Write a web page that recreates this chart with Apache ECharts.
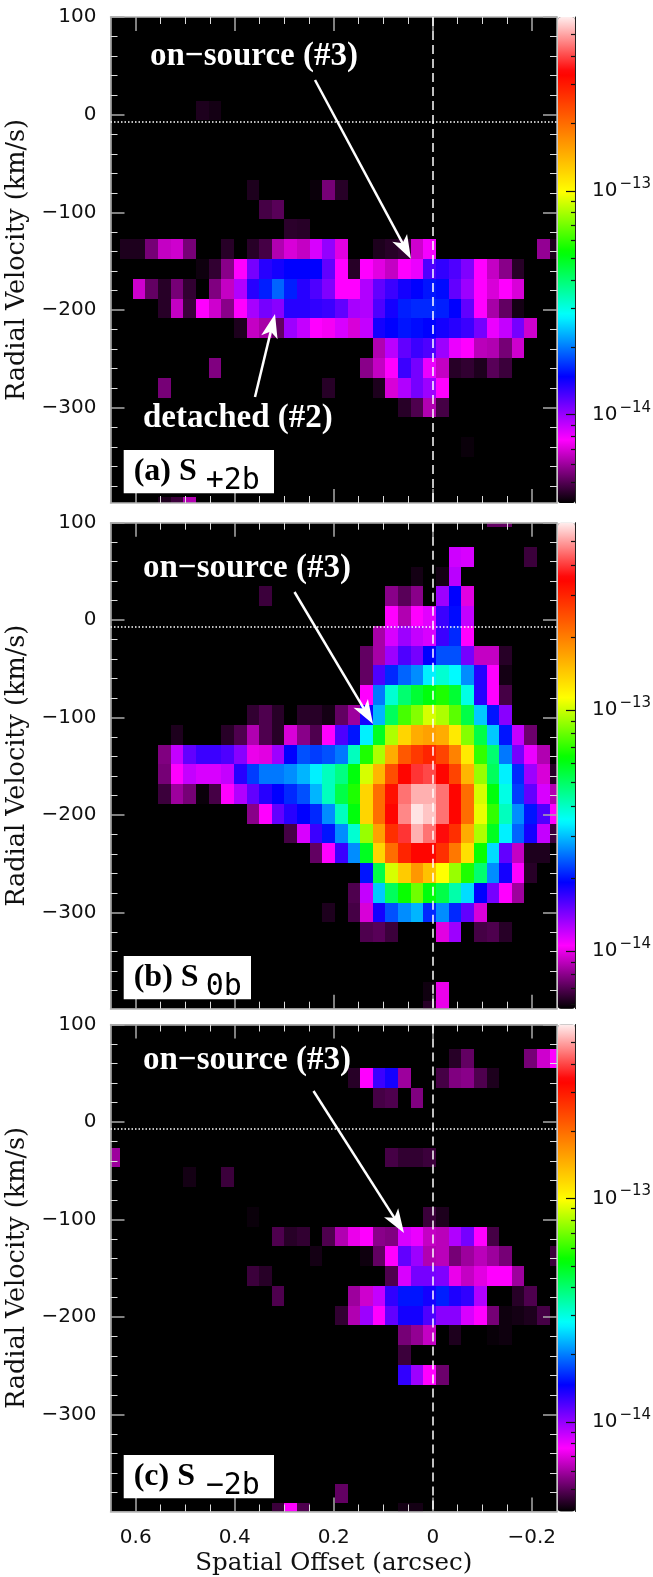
<!DOCTYPE html>
<html><head><meta charset="utf-8">
<style>html,body{margin:0;padding:0;background:#fff}#c{width:653px;height:1577px}</style>
<script src="https://cdn.jsdelivr.net/npm/echarts@6/dist/echarts.min.js"></script>
</head><body><div id="c"></div>
<script>
// Pixel grid of the position-velocity map: centre of first column/row and step
const firstOffset = 0.6442, offsetStep = -0.02552;   // arcsec
const firstVelocity = 105.56, velocityStep = -20.27;  // km/s

// Flux of each cell as position on the colour scale (percent).
// Each entry: [row, firstColumn, values...]; 0 = below the scale.
const panelA = [
[5,7,1.5,1],
[9,11,1.5,0,0,0,0,0.5,6,2],
[10,12,3.5,4.5],
[11,14,2.2,2],
[12,1,1.5,1.5,6,10,10.5,6,0,0,2,0,2,3.5,9,11,10,15,18.5,11.5,0,0,1.5,2,2.5,10.5,13.5,0,0,0,0,0,0,0,0,7.5,1.5],
[13,7,0.7,2.5,7,13,20,24,25,26,26,26,21,13,2,13,11.5,10,13,14,22,23.5,22,19.5,13,10,7,2],
[14,2,10.5,5,2,6,2.5,0,6.5,10,17,24,27.5,31,27.5,24,22,19.5,13,13,17,21,23,25,26,27,26.5,21,18,13,11,13,11],
[15,4,2,10,3,13,10.5,7,13,17.5,20,19,24,24,23.5,23,21,17.5,17,22,25,27.5,28,28,27.5,26,21,13,8.5,5,1],
[16,10,1.5,10,8.5,5,18,16,13,12.5,15,11,16,25,26,27,26.5,26,25,24,23,20,14,16,20,10.5],
[17,21,9,16.5,21,23,22,18,14,13,9.5,9,6,10.5],
[18,8,6.5],
[18,20,7,10,13,23,20,14,10,2,2.5,1.5,4.5,3],
[19,4,6],
[19,17,2],
[19,21,1.5,11,17,20,18,13],
[20,23,2,4,9,3.5],
[22,28,0.5],
[25,4,1.5,3,9]
];
const panelB = [
[0,30,5,5],
[2,27,15.5,15],
[2,33,3],
[3,24,1,0,1,16.5],
[4,12,3],
[4,22,7,4.5,7,0,18,26,11.5],
[5,22,13,9,13,14.5,23,26.5,16],
[6,21,8.5,15,18,16,15,23,28,13],
[7,20,5,8.5,18,22,20,26,30,30,20,10,10,2],
[8,20,5,22,28,31,33,38,41,38.5,33,24,13,1],
[9,20,13,32,41,46,49,51,53,49,40,24,13,3.5],
[10,11,2.5,4,2,0,2,2,1,5,8,25,35,47,55,58,62,60,56,48,36,27,19],
[11,5,1.5,0,0,0,2,4,9,4,2,11,7,4,13,22,27,38,50,60,68,72,73,72,66,58,48,36,27,16,5.5],
[12,4,6.5,16,21,23,23,22,19,12,11.5,18,26,30,29,30,32,42,53,60,72,80,83,85,82,76,66,54,46,32,20,14,9],
[13,4,6,13,16,15,15,16,24,29,32,32,33,35,38,42,45,51,62,71,81,88,91,92,88,82,71,59,47,38,28,18,11,2],
[14,4,3,8,6,0.5,3.5,13,17,21,24,26,28,30,35,42,48,53,68,78,87,94,97,97,94,88,78,62,51,40,29,21,15,9],
[15,11,7,13,21,24,26,28,33,42,51,68,78,88,95,99.5,98,94,88,78,63,54,42,33,27,22,13],
[16,14,3.5,15,23,27,33,41,59,73,84,91,97,94,89,84,72,60,50,38,31,25,16,3],
[17,16,5,13,23,33,50,68,78,85,88,88,84,77,67,52,37,21,10,1.5,1.5],
[18,20,27,48,62,69,74,70,64,59,53,46,33,25,13,2],
[19,19,4,16,36,47,52,57,51,48,43,37,26,20,13,8],
[20,17,1.5,0,3.5,11,25,30,33,35,28,33,28,21,11],
[21,20,4,4.5,3,0,0,0,11.5,18,0,3.5,4,2],
[24,25,0.8,12],
[25,25,2,12]
];
const panelC = [
[2,27,2,5],
[2,33,6,10.5,13],
[3,19,2,13,23,25,8,0,0,3.5,6.5,7,4,1.5],
[4,21,3.5,4,0,6.5],
[7,0,8],
[7,22,3.5,2.5,2.5,3],
[8,6,1],
[8,9,3],
[10,11,0.5],
[10,25,3,1.5],
[11,13,4,2,2.5,0,4,9,12,13,7,6.5,15,14,10,9.5,17,20,13,3.5],
[12,16,1,0,0,0,0.7,5,13,21,18,9,9.5,6,8,9.5,8,6],
[12,35,3],
[13,11,3,2],
[13,22,4,15,20,20,19.5,12,10,11.5,13,13,8],
[14,13,4],
[14,19,8,10.5,16,23.5,27,27,25,27.5,24.5,23.5,17,0,0,2,4],
[15,18,2.5,9,18,13,21,25,25,22,19,19,15,13,6,0.7,1,1.5,3.5],
[16,23,6,7.5,10,0,1.5,0,0,0.4,0.7],
[17,23,3],
[18,23,23.5,18,13,5.5],
[24,18,5],
[25,13,3,13,4],
[25,23,1,1]
];

const velocityMajor = [100, 0, -100, -200, -300];
const velocityMinor = [80, 60, 40, 20, -20, -40, -60, -80, -120, -140, -160, -180, -220, -240, -260, -280, -320, -340, -360, -380];
const offsetMajor = [0.6, 0.4, 0.2, 0, -0.2];
const offsetMinor = [0.55, 0.5, 0.45, 0.35, 0.3, 0.25, 0.15, 0.1, 0.05, -0.05, -0.1, -0.15];
const fluxMajor = [1e-14, 1e-13];
const fluxMinor = [5e-15, 6e-15, 7e-15, 8e-15, 9e-15, 2e-14, 3e-14, 4e-14, 5e-14, 6e-14, 7e-14, 8e-14, 9e-14, 2e-13, 3e-13, 4e-13, 5e-13];
const systemicVelocity = -7.2;

// Colour table: position (0-1) and colour
const tableStops = [[0,[0,0,0]],[0.13,[255,0,255]],[0.26,[0,0,255]],[0.387,[0,255,255]],[0.516,[0,255,0]],[0.64,[255,255,0]],[0.885,[255,0,0]],[1,[255,238,238]]];
const ramp = [];
for (let i = 0; i <= 200; i++) {
  const t = i / 200; let k = 0;
  while (k < tableStops.length - 2 && t > tableStops[k + 1][0]) k++;
  const [a, ca] = tableStops[k], [b, cb] = tableStops[k + 1], f = (t - a) / (b - a);
  ramp.push('rgb(' + ca.map((v, j) => Math.round(v + (cb[j] - v) * f)).join(',') + ')');
}

const panels = [
  { data: panelA, top: 17, height: 486, vMin: -397.5, fMin: -14.395,
    label: '(a) S', sub: '+2b', box: [123.7, 450, 150.3, 43.3], src: [150, 66],
    arrows: [[[315, 80], [411, 259]], [[255, 397], [275, 314]]] },
  { data: panelB, top: 522.7, height: 486, vMin: -398.5, fMin: -14.24,
    label: '(b) S', sub: '0b', box: [123.7, 956, 127.3, 43.3], src: [143, 578],
    arrows: [[[294.5, 592], [373, 724]]] },
  { data: panelC, top: 1024.5, height: 487, vMin: -399.5, fMin: -14.40,
    label: '(c) S', sub: '\u22122b', box: [123.7, 1455, 150.3, 43.3], src: [143, 1070],
    arrows: [[[313.5, 1091], [404, 1233]]] }
];
const left = 110.5, width = 446.5, barLeft = 558, barWidth = 17;
const frame = '#b4b4b4', minus = s => String(s).replace('-', '\u2212');
const numFont = { fontFamily: 'DejaVu Sans', fontSize: 20, color: '#111' };
const nameFont = { fontFamily: 'DejaVu Serif', fontSize: 24.5, color: '#111' };
const titleFont = 'bold 33px "Liberation Serif"';
const arrowHead = 'path://M10,0 L17,20 L10,15 L3,20 Z M0,0 M20,0';
const headSize = 24;

const option = { animation: false, backgroundColor: '#fff', grid: [], xAxis: [], yAxis: [], series: [], visualMap: [], graphic: [] };

function cell(params, api) {
  const x = api.value(0), y = api.value(1);
  const p0 = api.coord([x - offsetStep / 2, y - velocityStep / 2]);
  const p1 = api.coord([x + offsetStep / 2, y + velocityStep / 2]);
  const x0 = Math.round(p0[0]), y0 = Math.round(p0[1]), x1 = Math.round(p1[0]), y1 = Math.round(p1[1]);
  const shape = echarts.graphic.clipRectByRect({ x: x0, y: y0, width: x1 - x0, height: y1 - y0 }, params.coordSys);
  return shape && { type: 'rect', shape, style: { fill: api.visual('color') } };
}

function tickAxis(base, values, len, col, lw, line, labels) {
  return Object.assign({ type: 'value', splitLine: { show: false }, z: 3,
    axisLine: { show: !!line, onZero: false, lineStyle: { color: frame, width: 1.5 } },
    axisTick: { show: true, inside: true, length: len, customValues: values, lineStyle: { color: col, width: lw } },
    axisLabel: labels || { show: false } }, base);
}

// the head symbol is centred on the line's end, so stop short of the tip
function arrowLine(a) {
  const dx = a[1][0] - a[0][0], dy = a[1][1] - a[0][1], n = Math.hypot(dx, dy), s = headSize / 2 / n;
  return [{ x: a[0][0], y: a[0][1] }, { x: a[1][0] - dx * s, y: a[1][1] - dy * s }];
}

panels.forEach((p, i) => {
  const g = option.grid.length;
  option.grid.push({ left, width, top: p.top, height: p.height, backgroundColor: '#000', show: true, borderWidth: 0, containLabel: false, outerBoundsMode: 'none' });
  const xb = { gridIndex: g, min: -0.251, max: 0.651, inverse: true };
  const yb = { gridIndex: g, min: p.vMin, max: 100 };
  const xi = option.xAxis.length, yi = option.yAxis.length;
  const xLabels = i === 2 ? { show: true, customValues: offsetMajor, margin: 16, formatter: minus, ...numFont } : null;
  const xName = i === 2 ? { name: 'Spatial Offset (arcsec)', nameLocation: 'middle', nameGap: 40, nameTextStyle: nameFont } : {};
  option.xAxis.push(
    tickAxis({ ...xb, position: 'bottom', ...xName }, offsetMajor, 14, '#aaa', 1.5, true, xLabels),
    tickAxis({ ...xb, position: 'top' }, offsetMajor, 14, '#aaa', 1.5, true),
    tickAxis({ ...xb, position: 'bottom' }, offsetMinor, 7, '#ddd', 1),
    tickAxis({ ...xb, position: 'top' }, offsetMinor, 7, '#ddd', 1));
  option.yAxis.push(
    tickAxis({ ...yb, position: 'left', name: 'Radial Velocity (km/s)', nameLocation: 'middle', nameGap: 77, nameTextStyle: { ...nameFont, fontSize: 25.5 } },
      velocityMajor, 14, '#aaa', 1.5, true, { show: true, customValues: velocityMajor, margin: 14, formatter: minus, ...numFont }),
    tickAxis({ ...yb, position: 'right' }, velocityMajor, 14, '#aaa', 1.5, true),
    tickAxis({ ...yb, position: 'left' }, velocityMinor, 7, '#ddd', 1),
    tickAxis({ ...yb, position: 'right' }, velocityMinor, 7, '#ddd', 1));

  const cells = [];
  p.data.forEach(r => r.slice(2).forEach((v, k) => {
    if (v > 0) cells.push([firstOffset + offsetStep * (r[1] + k), firstVelocity + velocityStep * r[0], v]);
  }));
  const lineStyle = { color: '#fff', width: 2.5, type: 'solid' };
  option.series.push({
    type: 'custom', xAxisIndex: xi, yAxisIndex: yi, renderItem: cell, data: cells, silent: true, z: 2,
    encode: { x: 0, y: 1 },
    markLine: { silent: true, animation: false, symbol: 'none', z: 6, label: { show: false }, data: [
      [{ coord: [0, 100], lineStyle: { color: '#fff', width: 1.5, type: [9, 5] } }, { coord: [0, p.vMin] }],
      [{ coord: [0.651, systemicVelocity], lineStyle: { color: '#fff', width: 1.5, type: [1.5, 2] } }, { coord: [-0.251, systemicVelocity] }]
    ] }
  });
  option.series.push({
    type: 'custom', xAxisIndex: xi, yAxisIndex: yi, renderItem: () => null, data: [], silent: true, z: 7,
    markLine: { silent: true, animation: false, symbol: ['none', arrowHead], symbolSize: headSize, z: 7, label: { show: false }, lineStyle,
      data: p.arrows.map(arrowLine) }
  });

  option.visualMap.push({ type: 'continuous', seriesIndex: option.series.length - 2, dimension: 2, min: 0, max: 100,
    left: barLeft, top: p.top, itemWidth: barWidth, itemHeight: p.height, padding: 0, calculable: false, hoverLink: false,
    text: null, inRange: { color: ramp }, outOfRange: { color: '#000' }, zlevel: 0, z: 4 });

  // colour-bar ticks
  const gb = option.grid.length;
  option.grid.push({ left: barLeft, width: barWidth, top: p.top, height: p.height, show: false, containLabel: false, outerBoundsMode: 'none' });
  option.xAxis.push({ type: 'value', gridIndex: gb, show: false, min: 0, max: 1 });
  const bar = { gridIndex: gb, min: p.fMin, max: -12.222, position: 'right', z: 10 };
  const barLine = { show: true, onZero: false, lineStyle: { color: '#222', width: 1 } };
  option.yAxis.push(
    tickAxis({ ...bar }, fluxMajor.map(Math.log10), 9, '#111', 1.2, true, { show: true, customValues: fluxMajor.map(Math.log10), margin: 17,
      formatter: v => '{b|10}{s|\u2212' + Math.abs(Math.round(v)) + '}',
      rich: { b: { fontFamily: 'DejaVu Sans', fontSize: 20, color: '#111' }, s: { fontFamily: 'DejaVu Sans', fontSize: 15, color: '#111', padding: [0, 0, 14, 2] } } }),
    tickAxis({ ...bar }, fluxMinor.map(Math.log10), 4, '#111', 1.2));
  option.yAxis[option.yAxis.length - 2].axisLine = barLine;

  // annotations
  const [bx, by, bw, bh] = p.box;
  option.graphic.push(
    { type: 'rect', z: 20, silent: true, shape: { x: bx, y: by, width: bw, height: bh }, style: { fill: '#fff' } },
    { type: 'text', z: 21, silent: true, style: { x: bx + 10, y: by + 22, text: p.label, fill: '#000', font: 'bold 32px "Liberation Serif"', verticalAlign: 'middle' } },
    { type: 'text', z: 21, silent: true, style: { x: bx + 82, y: by + 31, text: p.sub, fill: '#000', font: '30px "DejaVu Sans Mono"', verticalAlign: 'middle' } },
    { type: 'text', z: 21, silent: true, style: { x: p.src[0], y: p.src[1] - 10, text: 'on\u2212source (#3)', fill: '#fff', font: titleFont, verticalAlign: 'middle' } });
  if (i === 0) option.graphic.push({ type: 'text', z: 21, silent: true, style: { x: 143, y: 418, text: 'detached (#2)', fill: '#fff', font: titleFont, verticalAlign: 'middle' } });
});

const chart = echarts.init(document.getElementById('c'), null, { renderer: 'canvas' });
chart.setOption(option);
</script></body></html>
